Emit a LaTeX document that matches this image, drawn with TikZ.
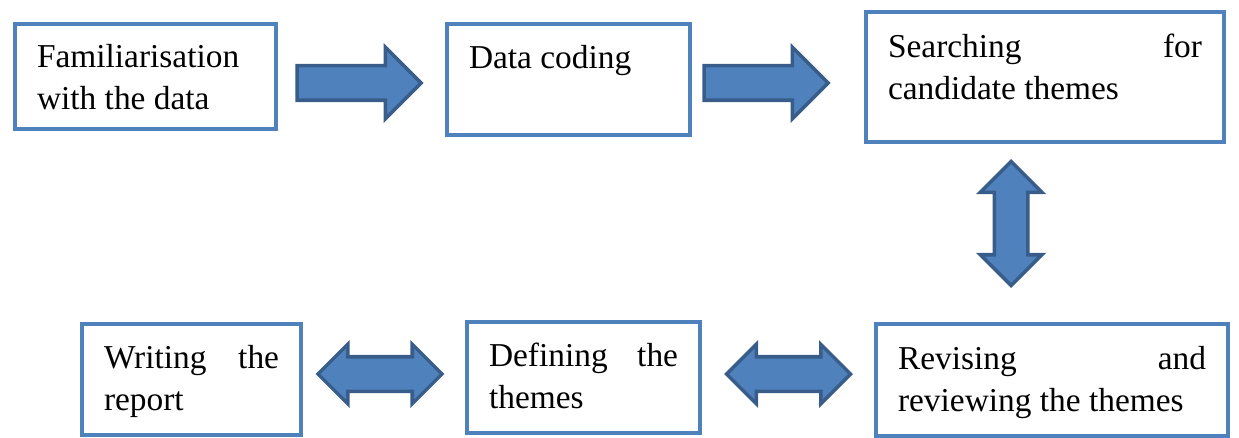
\documentclass[tikz,border=0pt]{standalone}
\usepackage{fontspec}
\setmainfont{Liberation Serif}
\usetikzlibrary{shapes.arrows}
\definecolor{boxblue}{HTML}{4F81BD}
\definecolor{arrowedge}{HTML}{385D8A}
\setlength{\parindent}{0pt}
\begin{document}
\begin{tikzpicture}[
  stage/.style 2 args={draw=boxblue,line width=2.3pt,anchor=north west,inner xsep=0.44cm,inner ysep=0pt,
    align=justify,font=\fontsize{19}{24}\selectfont,
    execute at begin node={\rule{0pt}{#1}},execute at end node={\rule[-#2]{0pt}{0pt}}},
  blockarrow/.style={fill=boxblue,draw=arrowedge,line width=2pt,inner xsep=0pt,inner ysep=0.31cm,minimum height=2.48cm},
  fwd/.style={blockarrow,single arrow,single arrow head extend=0.37cm},
  both/.style={blockarrow,double arrow,double arrow head extend=0.25cm}]
\useasboundingbox (0,0) rectangle (24.78,8.74);

\node[stage={0.86cm}{0.4cm},text width=4.34cm] (familiar) at (0.26,8.30) {Familiarisation\\ with the data};
\node[stage={0.88cm}{1.34cm},text width=3.98cm] (coding) at (8.90,8.30) {Data coding};
\node[stage={0.9cm}{0.85cm},text width=6.28cm] (search) at (17.28,8.54) {Searching for\linebreak candidate themes};

\node[stage={0.88cm}{0.5cm},text width=3.50cm] (report) at (1.60,2.30) {Writing the\linebreak report};
\node[stage={0.88cm}{0.5cm},text width=3.78cm] (define) at (9.30,2.34) {Defining the\linebreak themes};
\node[stage={0.9cm}{0.5cm},text width=6.16cm] (review) at (17.48,2.30) {Revising and\linebreak reviewing the themes};

\node[fwd] (a1) at (7.01,7.08) {};
\node[fwd] (a2) at (15.15,7.08) {};
\node[both,rotate=90,inner ysep=0.3cm,double arrow head extend=0.28cm] (a3) at (20.22,4.27) {};
\node[both] (a4) at (7.60,1.26) {};
\node[both] (a5) at (15.77,1.26) {};

\end{tikzpicture}
\end{document}
